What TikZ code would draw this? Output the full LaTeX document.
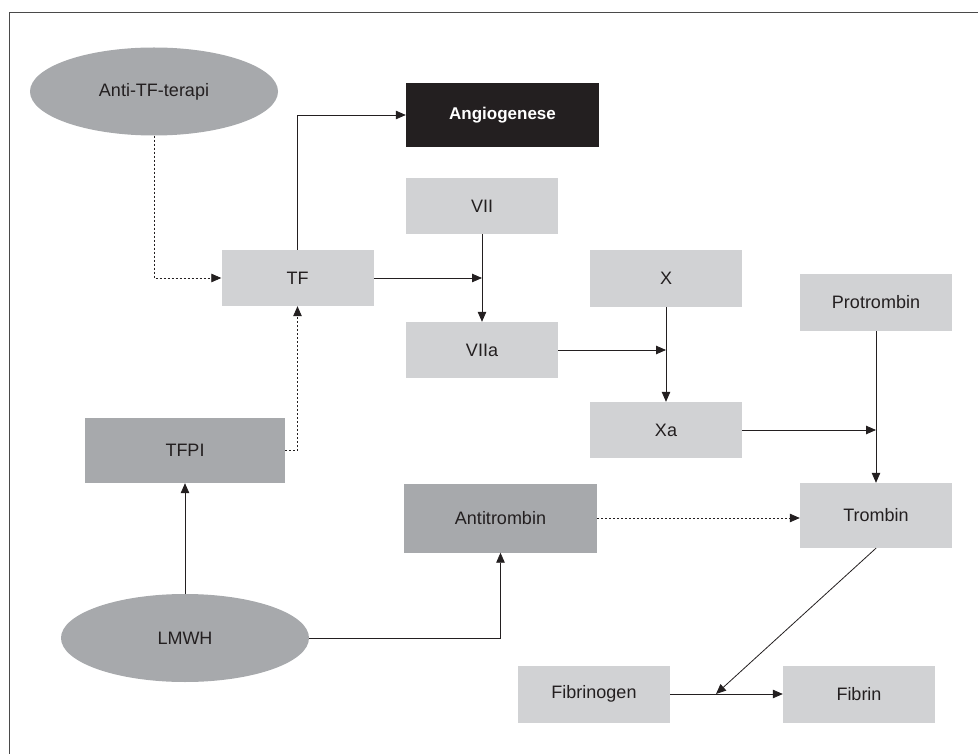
\documentclass[tikz,border=0pt]{standalone}
\usepackage{fontspec}
\setmainfont{Liberation Sans}
\usetikzlibrary{arrows.meta,shapes.geometric}
\definecolor{lightbox}{HTML}{D1D2D4}
\definecolor{darkbox}{HTML}{A7A9AC}
\definecolor{inkc}{HTML}{231F20}
\definecolor{framec}{HTML}{4A4A4A}
\tikzset{
  base/.style={inner sep=0pt, text=inkc, font=\fontsize{18}{21}\selectfont},
  lbox/.style={base, rectangle, fill=lightbox, minimum width=152pt, minimum height=56pt},
  dbox/.style={base, rectangle, fill=darkbox},
  oval/.style={base, ellipse, fill=darkbox, minimum width=248pt, minimum height=88pt},
  blackbox/.style={base, rectangle, fill=inkc, text=white, font=\fontsize{17}{20}\selectfont\bfseries, minimum width=193pt, minimum height=64pt},
  conn/.style={draw=inkc, line width=0.8pt, -{Triangle[length=10pt,width=8.5pt]}},
  dotconn/.style={conn, dash pattern=on 2pt off 2pt},
}
\begin{document}
\begin{tikzpicture}[x=1pt,y=-1pt]
\useasboundingbox (0,0) rectangle (978,754);
\draw[framec, line width=1pt] (9,754) -- (9,13) -- (978,13);

\node[oval] (anti) at (154,91.5) {Anti-TF-terapi};
\node[blackbox] (angio) at (502.5,115) {Angiogenese};
\node[lbox] (vii) at (482,206) {VII};
\node[lbox] (tf) at (297.5,278) {TF};
\node[lbox] (viia) at (482,350) {VIIa};
\node[lbox, minimum height=57pt] (x) at (666,278.5) {X};
\node[lbox] (xa) at (666,430) {Xa};
\node[lbox, minimum height=57pt] (pro) at (876,302.5) {Protrombin};
\node[dbox, minimum width=200pt, minimum height=65pt] (tfpi) at (185,450.5) {TFPI};
\node[dbox, minimum width=193pt, minimum height=69pt] (at) at (500.5,518) {Antitrombin};
\node[lbox, minimum height=65pt] (trombin) at (876,515.5) {Trombin};
\node[oval] (lmwh) at (185,638) {LMWH};
\node[lbox, minimum height=57pt] (fbg) at (594,694) {Fibrinogen};
\node[lbox, minimum height=57pt] (fib) at (859,694) {Fibrin};
\coordinate (m) at (716,694);

\draw[dotconn] (anti.south) |- (tf.west);
\draw[conn] (tf.north) |- (angio.west);
\draw[conn] (tf.east) -- (tf.east -| vii.south);
\draw[conn] (vii.south) -- (viia.north);
\draw[conn] (viia.east) -- (viia.east -| x.south);
\draw[conn] (x.south) -- (xa.north);
\draw[conn] (xa.east) -- (xa.east -| pro.south);
\draw[conn] (pro.south) -- (trombin.north);
\draw[dotconn] (tfpi.east) -| (tf.south);
\draw[conn] (lmwh.north) -- (tfpi.south);
\draw[conn] (lmwh.east) -| (at.south);
\draw[dotconn] (at.east) -- (at.east -| trombin.west);
\draw[conn] (fbg.east) -- (fib.west);
\draw[conn] (trombin.south) -- (m);
\end{tikzpicture}
\end{document}
